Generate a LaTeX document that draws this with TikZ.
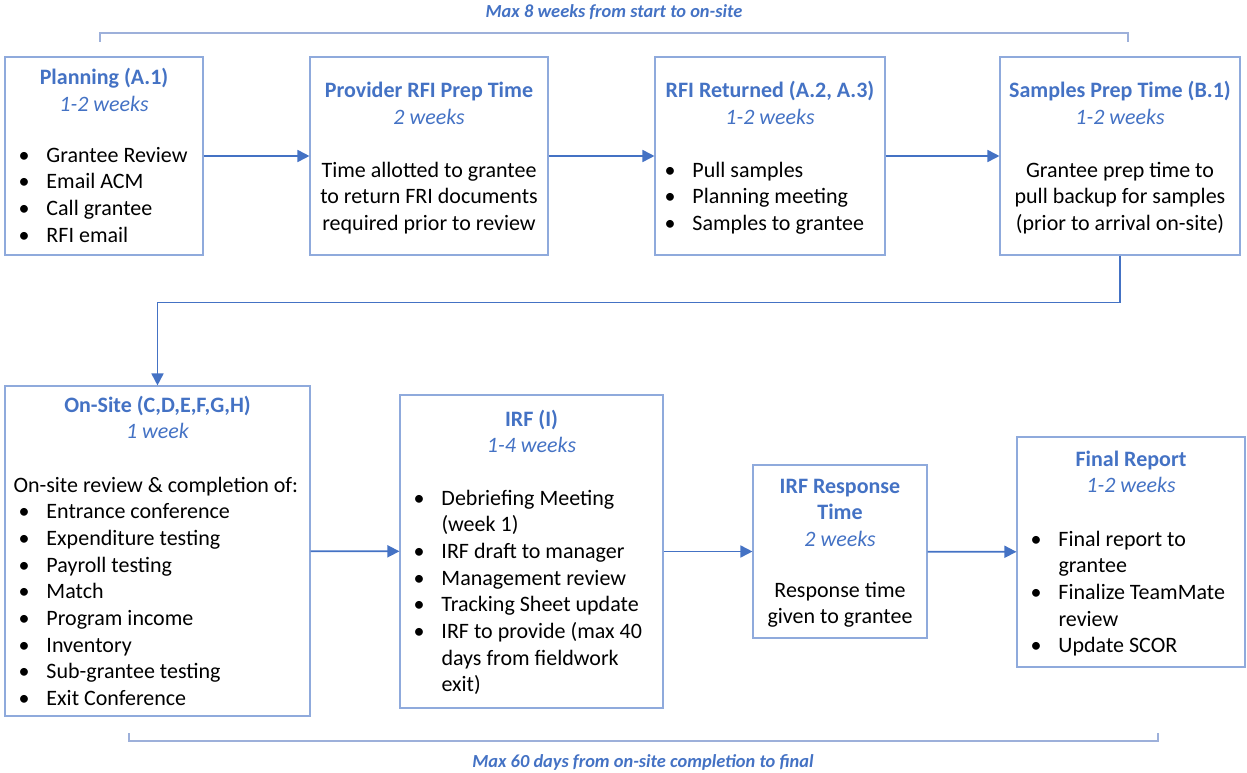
\documentclass[tikz,border=0pt]{standalone}
\usepackage{fontspec}
\setmainfont{Carlito}
\usepackage{tikz}
\usetikzlibrary{arrows.meta}
\usetikzlibrary{calc}

\definecolor{headblue}{HTML}{4472C4}
\definecolor{edgeblue}{HTML}{8FAADC}
\definecolor{spanblue}{HTML}{9DB0DA}

\newcommand{\stagetitle}[2]{\begin{tabular}[t]{@{}c@{}}\bfseries #1\\\itshape #2\end{tabular}}
\newcommand{\bul}{\makebox[28pt][l]{•}}
\newcommand{\indt}{\hspace*{28pt}}

\begin{document}
\begin{tikzpicture}[x=1pt,y=-1pt,line width=1pt,
		font=\fontsize{22}{26.7}\selectfont,
		stage/.style={draw=edgeblue,line width=1.1pt,shape=rectangle,inner sep=0pt},
		head/.style={text=headblue,anchor=base,inner sep=0pt},
		body/.style={anchor=base west,inner sep=0pt},
		prose/.style={anchor=base,inner sep=0pt},
		flow/.style={draw=headblue,line width=1.7pt,-{Triangle[length=12pt,width=12pt]}},
		span/.style={draw=spanblue,line width=1.2pt},
		spanlabel/.style={text=headblue,anchor=base,inner sep=0pt,font=\fontsize{18.4}{21}\selectfont\bfseries\itshape}]
			\useasboundingbox (0,0) rectangle (1247,773);
			% first row
			\node [stage,minimum width=198pt,minimum height=198pt] (plan) at (104,156) {};
			\node [stage,minimum width=238pt,minimum height=198pt] (prov) at (429,156) {};
			\node [stage,minimum width=230pt,minimum height=198pt] (rfi) at (770,156) {};
			\node [stage,minimum width=240pt,minimum height=198pt] (samples) at (1120,156) {};
			\node [head] (planhead) at (104,85) {\stagetitle{Planning (A.1)}{1-2 weeks}};
			\node [body] (planbody) at (18,162) {\begin{tabular}[t]{@{}l@{}}
				\bul Grantee Review\\ \bul Email ACM\\ \bul Call grantee\\ \bul RFI email\end{tabular}};
			\node [head] (provhead) at (429,98) {\stagetitle{Provider RFI Prep Time}{2 weeks}};
			\node [prose] (provbody) at (429,177) {\begin{tabular}[t]{@{}c@{}}
				Time allotted to grantee\\ to return FRI documents\\ required prior to review\end{tabular}};
			\node [head] (rfihead) at (770,98) {\stagetitle{RFI Returned (A.2, A.3)}{1-2 weeks}};
			\node [body] (rfibody) at (664,177) {\begin{tabular}[t]{@{}l@{}}
				\bul Pull samples\\ \bul Planning meeting\\ \bul Samples to grantee\end{tabular}};
			\node [head] (samphead) at (1120,98) {\stagetitle{Samples Prep Time (B.1)}{1-2 weeks}};
			\node [prose] (sampbody) at (1120,177) {\begin{tabular}[t]{@{}c@{}}
				Grantee prep time to\\ pull backup for samples\\ (prior to arrival on-site)\end{tabular}};
			% second row
			\node [stage,minimum width=305pt,minimum height=330pt] (onsite) at (157.5,551) {};
			\node [stage,minimum width=263pt,minimum height=313pt] (irf) at (531.5,551.5) {};
			\node [stage,minimum width=174pt,minimum height=173pt] (resp) at (840,551.5) {};
			\node [stage,minimum width=228pt,minimum height=230pt] (final) at (1131,552) {};
			\node [head] (onsitehead) at (157.5,412) {\stagetitle{On-Site (C,D,E,F,G,H)}{1 week}};
			\node [body] (onsitebody) at (18,492) {\begin{tabular}[t]{@{}l@{}}
				\hspace*{-5pt}On-site review \& completion of:\\
				\bul Entrance conference\\ \bul Expenditure testing\\ \bul Payroll testing\\
				\bul Match\\ \bul Program income\\ \bul Inventory\\
				\bul Sub-grantee testing\\ \bul Exit Conference\end{tabular}};
			\node [head] (irfhead) at (531.5,426) {\stagetitle{IRF (I)}{1-4 weeks}};
			\node [body] (irfbody) at (413,505) {\begin{tabular}[t]{@{}l@{}}
				\bul Debriefing Meeting\\ \indt(week 1)\\ \bul IRF draft to manager\\
				\bul Management review\\ \bul Tracking Sheet update\\
				\bul IRF to provide (max 40\\ \indt days from fieldwork\\ \indt exit)\end{tabular}};
			\node [head] (resphead) at (840,493) {\stagetitle{IRF Response\\\bfseries Time}{2 weeks}};
			\node [prose] (respbody) at (840,597) {\begin{tabular}[t]{@{}c@{}}
				Response time\\ given to grantee\end{tabular}};
			\node [head] (finalhead) at (1131,466) {\stagetitle{Final Report}{1-2 weeks}};
			\node [body] (finalbody) at (1030,546) {\begin{tabular}[t]{@{}l@{}}
				\bul Final report to\\ \indt grantee\\ \bul Finalize TeamMate\\
				\indt review\\ \bul Update SCOR\end{tabular}};
			% connectors
			\draw[flow] (plan) -- (prov);
			\draw[flow] (prov) -- (rfi);
			\draw[flow] (rfi) -- (samples);
			\draw[flow] (samples.south) -- ++(0,47) -| (onsite.north);
			\draw[flow] (onsite) -- (irf);
			\draw[flow] (irf) -- (resp);
			\draw[flow] (resp) -- (final);
			% time spans
			\coordinate (topL) at (100,42);
			\coordinate (topR) at (1128,42);
			\draw[span] (topL) -- ++(0,-9) -| (topR);
			\node [spanlabel] (toplabel) at (614,18) {Max 8 weeks from start to on-site};
			\coordinate (botL) at (129,733);
			\coordinate (botR) at (1158,733);
			\draw[span] (botL) -- ++(0,8) -| (botR);
			\node [spanlabel] (botlabel) at (643,767) {Max 60 days from on-site completion to final};
		\end{tikzpicture}
\end{document}
